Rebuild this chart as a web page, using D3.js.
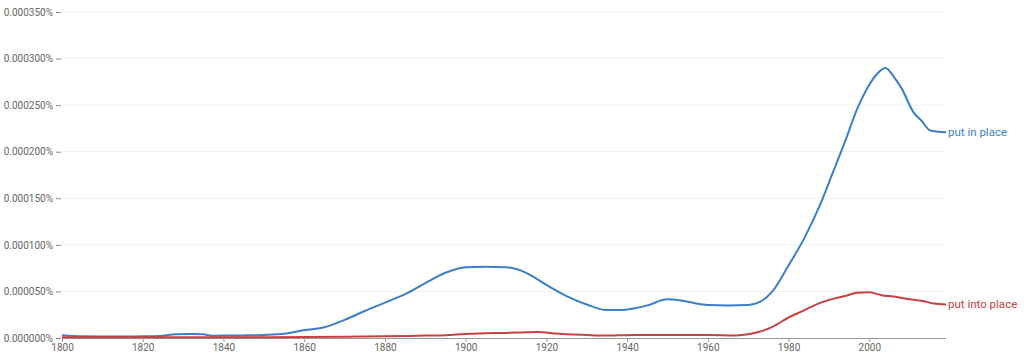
<!DOCTYPE html>
<html><head><meta charset="utf-8">
<script src="https://cdn.jsdelivr.net/npm/d3@7"></script>
<style>body{margin:0;background:#fff;font-family:Roboto,"Open Sans",sans-serif;}</style>
</head><body><svg id="c" width="1024" height="357"></svg>
<script>
const blueYears = [1800,1805,1810,1815,1820,1825,1828,1832,1835,1837,1840,1845,1850,1855,1860,1865,1870,1875,1880,1885,1890,1895,1900,1905,1910,1915,1920,1925,1930,1935,1938,1942,1945,1950,1953,1956,1960,1965,1970,1973,1976,1980,1984,1988,1991,1994,1997,2000,2002,2004,2006,2008,2011,2013,2015,2017,2019];
const blueValues = [3.0,1.8,1.6,1.5,1.8,2.5,4.0,4.3,4.0,2.5,2.6,2.8,3.3,4.5,8.5,11.5,19.5,29,38,47,59,70,76,76.5,76,70,57,45,36,30,30,32,35,41.5,40.5,38,35.5,35,35.5,39,50,78,108,145,178,211,246,272,284,290,281,268,242,233,223,221.5,221];
const redYears = [1800,1820,1840,1860,1870,1880,1890,1895,1900,1905,1910,1915,1918,1922,1930,1935,1940,1945,1950,1960,1967,1970,1973,1976,1980,1984,1988,1991,1994,1997,2000,2003,2006,2010,2013,2016,2019];
const redValues = [0.8,0.8,0.8,1.0,1.3,1.8,2.6,3.0,4.2,5.0,5.5,6.2,6.4,4.8,3.2,2.6,3.0,3.3,3.2,3.2,2.8,4.0,7,12,22,30,38,42,45,48.5,49,46,44.5,41.5,40,37,36];
const seriesNames = ["put in place","put into place"];
const seriesColors = ["#3a7fc8","#c8403f"];
const yTicks = [0,0.00005,0.0001,0.00015,0.0002,0.00025,0.0003,0.00035];
const xTicks = [1800,1820,1840,1860,1880,1900,1920,1940,1960,1980,2000];

const svg = d3.select("#c");
const x = d3.scaleLinear().domain([1800,2019]).range([62,946]);
const y = d3.scaleLinear().domain([0,0.00035]).range([338,12]);

// gridlines
svg.append("g").selectAll("line").data(yTicks.slice(1)).join("line")
  .attr("x1",62).attr("x2",946).attr("y1",d=>y(d)).attr("y2",d=>y(d))
  .attr("stroke","#f0f0f0").attr("stroke-width",1);

// y axis
const yAxis = d3.axisLeft(y).tickValues(yTicks).tickSize(5).tickPadding(3)
  .tickFormat(d=>d3.format(".6f")(d*1)+"%");
const yg = svg.append("g").attr("transform","translate(61,0)").call(yAxis);
yg.select(".domain").remove();
yg.selectAll(".tick line").attr("stroke","#888");
yg.selectAll("text").attr("fill","#666").attr("font-size","10px").attr("font-family","Roboto");

// x axis
const xAxis = d3.axisBottom(x).tickValues(xTicks).tickSize(4).tickPadding(2).tickFormat(d3.format("d"));
const xg = svg.append("g").attr("transform","translate(0,338)").call(xAxis);
xg.select(".domain").attr("stroke","#999").attr("d","M62,0.5H946");
xg.selectAll(".tick line").attr("stroke","#999");
xg.selectAll("text").attr("fill","#666").attr("font-size","10px").attr("font-family","Roboto");

const line = d3.line().x(d=>x(d[0])).y(d=>y(d[1]*1e-6)).curve(d3.curveMonotoneX);
const series = [
  {years:blueYears, values:blueValues},
  {years:redYears, values:redValues}
];
series.forEach((s,i)=>{
  const pts = s.years.map((yr,j)=>[yr,s.values[j]]);
  svg.append("path").datum(pts).attr("d",line).attr("fill","none")
    .attr("stroke",seriesColors[i]).attr("stroke-width",2).attr("stroke-linejoin","round");
  const last = pts[pts.length-1];
  svg.append("text").attr("x",x(last[0])+2).attr("y",y(last[1]*1e-6)+4)
    .attr("fill",seriesColors[i]).attr("font-size","11.5px").attr("font-family","Roboto")
    .text(seriesNames[i]);
});
</script></body></html>
